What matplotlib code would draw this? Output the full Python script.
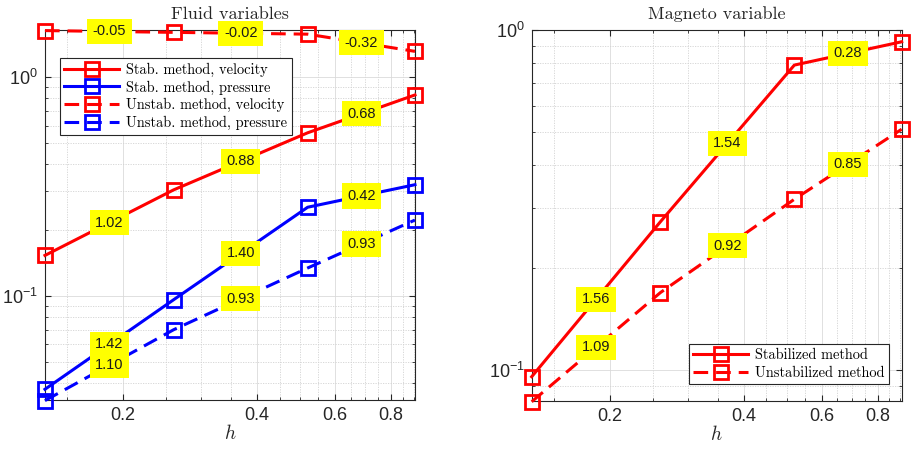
import numpy as np
import matplotlib
matplotlib.use("Agg")
import matplotlib.pyplot as plt
from matplotlib.ticker import FixedLocator, FixedFormatter, LogLocator, LogFormatterSciNotation, NullFormatter

plt.rcParams['font.family'] = ['Liberation Sans', 'DejaVu Sans']
plt.rcParams['mathtext.fontset'] = 'custom'
plt.rcParams['mathtext.rm'] = 'Liberation Sans'
plt.rcParams['mathtext.it'] = 'Liberation Sans:italic'

# ---- data ----
h = [0.1336, 0.26, 0.52, 0.906]

stab_vel = [0.153, 0.305, 0.556, 0.828]
stab_pre = [0.0374, 0.096, 0.254, 0.322]
unstab_vel = [1.63, 1.60, 1.57, 1.31]
unstab_pre = [0.0332, 0.070, 0.134, 0.222]

rate_stab_vel = ['1.02', '0.88', '0.68']
rate_stab_pre = ['1.42', '1.40', '0.42']
rate_unstab_vel = ['-0.05', '-0.02', '-0.32']
rate_unstab_pre = ['1.10', '0.93', '0.93']

mag_stab = [0.0956, 0.273, 0.789, 0.924]
mag_unstab = [0.0807, 0.169, 0.318, 0.511]
rate_mag_stab = ['1.56', '1.54', '0.28']
rate_mag_unstab = ['1.09', '0.92', '0.85']

xticks = [0.2, 0.4, 0.6, 0.8]
xticklabels = ['0.2', '0.4', '0.6', '0.8']

fig = plt.figure(figsize=(9.14, 4.54), dpi=100)
axL = fig.add_axes([0.0492, 0.1189, 0.4048, 0.815])
axR = fig.add_axes([0.5817, 0.1167, 0.4048, 0.817])

DASH = (0, (4.8, 2.6))
ink = '#262626'


def plot_series(ax, y, color, ls, label, rates):
    ax.plot(h, y, color=color, ls=ls, lw=2.2, marker='s', ms=9.5, mfc='none',
            mec=color, mew=2.0, label=label, clip_on=False, zorder=3)
    for i, r in enumerate(rates):
        xm = np.sqrt(h[i] * h[i + 1])
        ym = np.sqrt(y[i] * y[i + 1])
        ax.text(xm, ym, r, ha='center', va='center', fontsize=10.5, color='#1a1a1a',
                bbox=dict(boxstyle='square,pad=0.38', fc='#ffff00', ec='none'), zorder=5,
                clip_on=False)


def style(ax, ylim, title):
    ax.set_xscale('log')
    ax.set_yscale('log')
    ax.set_xlim(h[0], h[-1])
    ax.set_ylim(*ylim)
    ax.xaxis.set_major_locator(FixedLocator(xticks))
    ax.xaxis.set_major_formatter(FixedFormatter(xticklabels))
    ax.xaxis.set_minor_locator(FixedLocator(np.arange(0.15, 0.951, 0.05)))
    ax.xaxis.set_minor_formatter(NullFormatter())
    ax.yaxis.set_major_locator(LogLocator(base=10))
    ax.yaxis.set_major_formatter(LogFormatterSciNotation())
    ax.yaxis.set_minor_locator(LogLocator(base=10, subs=np.arange(2, 10)))
    ax.yaxis.set_minor_formatter(NullFormatter())
    ax.grid(True, which='major', color='#dadada', lw=0.6, ls='-', zorder=0)
    ax.grid(True, which='minor', color='#d2d2d2', lw=0.6, ls=(0, (1.5, 1.5)), zorder=0)
    ax.set_axisbelow(True)
    ax.tick_params(which='both', direction='in', top=True, right=True, colors=ink,
                   labelsize=13, labelcolor=ink)
    ax.tick_params(which='major', length=4, width=0.8, pad=5)
    ax.tick_params(which='minor', length=2, width=0.6)
    for s in ax.spines.values():
        s.set_color(ink)
        s.set_linewidth(0.8)
    ax.set_title(title, fontfamily='cmr10', fontsize=13, color=ink, pad=8)
    ax.set_xlabel('$h$', math_fontfamily='cm', fontsize=14, color=ink, labelpad=0)


def legend(ax, loc, anchor):
    leg = ax.legend(loc=loc, bbox_to_anchor=anchor, prop={'family': 'cmr10', 'size': 10.4},
                    handlelength=3.8, labelspacing=0.25, borderpad=0.3, handletextpad=0.5,
                    fancybox=False, framealpha=1, edgecolor=ink, borderaxespad=0)
    leg.get_frame().set_linewidth(0.8)
    leg.set_zorder(10)


plot_series(axL, stab_vel, '#ff0000', '-', 'Stab. method, velocity', rate_stab_vel)
plot_series(axL, stab_pre, '#0000ff', '-', 'Stab. method, pressure', rate_stab_pre)
plot_series(axL, unstab_vel, '#ff0000', DASH, 'Unstab. method, velocity', rate_unstab_vel)
plot_series(axL, unstab_pre, '#0000ff', DASH, 'Unstab. method, pressure', rate_unstab_pre)
style(axL, (0.0334, 1.64), 'Fluid variables')
legend(axL, 'upper left', (0.04, 0.924))

plot_series(axR, mag_stab, '#ff0000', '-', 'Stabilized method', rate_mag_stab)
plot_series(axR, mag_unstab, '#ff0000', DASH, 'Unstabilized method', rate_mag_unstab)
style(axR, (0.0811, 1.0), 'Magneto variable')
legend(axR, 'lower right', (0.966, 0.046))

fig.savefig('out.png', dpi=100)
